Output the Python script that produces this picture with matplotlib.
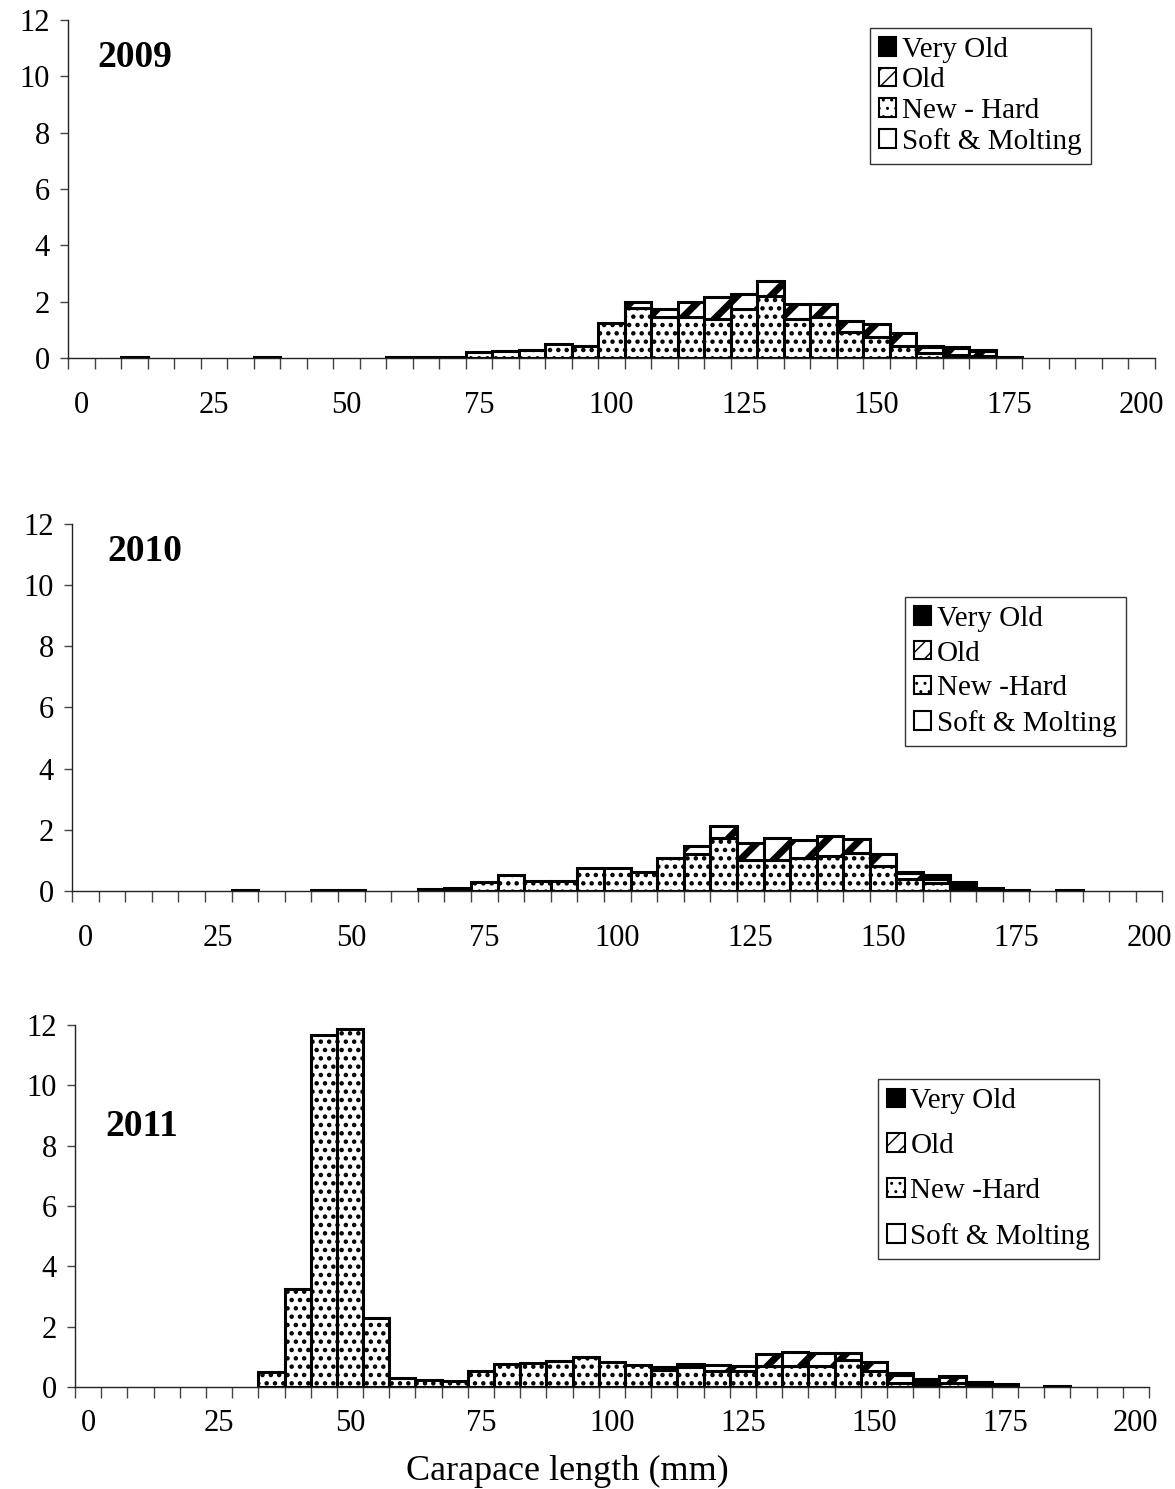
import matplotlib
matplotlib.use('Agg')
import matplotlib.pyplot as plt
from matplotlib.patches import Patch
import numpy as np

plt.rcParams['font.family'] = ['Liberation Serif', 'DejaVu Serif']
plt.rcParams['hatch.color'] = 'black'

# carapace length classes (mm) and percent frequency by shell condition
len_2009 = [10, 35, 60, 65, 70, 75, 80, 85, 90, 95, 100, 105, 110, 115, 120, 125,
            130, 135, 140, 145, 150, 155, 160, 165, 170, 175]
new_2009 = [0.02, 0.02, 0.05, 0.03, 0.05, 0.22, 0.26, 0.28, 0.50, 0.41, 1.25, 1.79, 1.44,
            1.46, 1.38, 1.74, 2.20, 1.37, 1.46, 0.91, 0.73, 0.44, 0.16, 0.12, 0.08, 0.0]
old_2009 = [0, 0, 0, 0, 0, 0, 0, 0, 0, 0, 0, 0.18, 0.30, 0.54, 0.77, 0.53, 0.52, 0.56,
            0.45, 0.41, 0.47, 0.45, 0.24, 0.24, 0.15, 0.0]
vold_2009 = [0, 0, 0, 0, 0, 0, 0, 0, 0, 0, 0, 0, 0, 0, 0, 0, 0, 0, 0, 0, 0, 0,
             0.04, 0.03, 0.05, 0.04]
soft_2009 = [0] * len(len_2009)

len_2010 = [30, 45, 50, 65, 70, 75, 80, 85, 90, 95, 100, 105, 110, 115, 120, 125,
            130, 135, 140, 145, 150, 155, 160, 165, 170, 175, 185]
new_2010 = [0.02, 0.02, 0.04, 0.05, 0.11, 0.30, 0.51, 0.32, 0.32, 0.74, 0.76, 0.62, 1.09,
            1.22, 1.74, 1.03, 1.00, 1.09, 1.14, 1.23, 0.82, 0.38, 0.27, 0.10, 0, 0, 0]
old_2010 = [0, 0, 0, 0, 0, 0, 0, 0, 0, 0, 0, 0, 0, 0.26, 0.38, 0.55, 0.72, 0.57, 0.66,
            0.46, 0.40, 0.20, 0.12, 0.08, 0, 0, 0]
vold_2010 = [0, 0, 0, 0, 0, 0, 0, 0, 0, 0, 0, 0, 0, 0, 0, 0, 0, 0, 0, 0, 0,
             0.05, 0.15, 0.12, 0.10, 0.04, 0.02]
soft_2010 = [0] * len(len_2010)

len_2011 = [35, 40, 45, 50, 55, 60, 65, 70, 75, 80, 85, 90, 95, 100, 105, 110, 115,
            120, 125, 130, 135, 140, 145, 150, 155, 160, 165, 170, 175, 185]
new_2011 = [0.50, 3.26, 11.66, 11.86, 2.29, 0.30, 0.24, 0.20, 0.52, 0.77, 0.79, 0.87,
            0.99, 0.83, 0.72, 0.57, 0.65, 0.52, 0.52, 0.68, 0.68, 0.68, 0.90, 0.52,
            0.14, 0.09, 0.14, 0, 0, 0]
old_2011 = [0, 0, 0, 0, 0, 0, 0, 0, 0, 0, 0, 0, 0, 0, 0, 0.08, 0.10, 0.20, 0.16, 0.42,
            0.49, 0.46, 0.24, 0.31, 0.25, 0.10, 0.18, 0, 0, 0]
vold_2011 = [0, 0, 0, 0, 0, 0, 0, 0, 0, 0, 0, 0, 0, 0, 0, 0, 0, 0, 0, 0, 0, 0, 0, 0,
             0.06, 0.06, 0.04, 0.16, 0.11, 0.04]
soft_2011 = [0] * len(len_2011)

OLD_HLW = 5.0
DOT_HLW = 2.0


def hatched(hatch, lw, **kw):
    # build a patch with its own hatch line width
    with plt.rc_context({'hatch.linewidth': lw}):
        p = Patch(hatch=hatch, **kw)
    if hasattr(p, 'set_hatch_linewidth'):
        p.set_hatch_linewidth(lw)
    return p


def panel(ax, lengths, soft, new, old, vold, year, year_xy, leg_xy, spacing,
          new_label, xpad=24):
    x = np.array(lengths, dtype=float)
    bottom = np.zeros(len(x))
    layers = [
        (soft, 'white', None, 1.0),
        (new, 'white', '..', DOT_HLW),
        (old, 'white', '/', OLD_HLW),
        (vold, 'black', None, 1.0),
    ]
    for vals, fc, hatch, hlw in layers:
        h = np.array(vals, dtype=float)
        m = h > 0
        with plt.rc_context({'hatch.linewidth': hlw}):
            bars = ax.bar(x[m], h[m], width=5, bottom=bottom[m], color=fc,
                          edgecolor='black', linewidth=2.2, hatch=hatch)
        for p in bars:
            if hasattr(p, 'set_hatch_linewidth'):
                p.set_hatch_linewidth(hlw)
        bottom = bottom + h

    ax.set_xlim(-2.5, 202.5)
    ax.set_ylim(0, 12)
    ax.set_yticks(np.arange(0, 13, 2))
    ax.set_xticks(np.arange(0, 201, 25))
    ax.set_xticks(np.arange(-2.5, 203, 5), minor=True)
    ax.tick_params(axis='x', which='major', length=0, pad=xpad, labelsize=22)
    ax.tick_params(axis='x', which='minor', length=8, direction='out',
                   color='#444444', width=1)
    ax.tick_params(axis='y', length=6, direction='out', color='#444444',
                   width=1, pad=7, labelsize=22)
    for s in ['top', 'right']:
        ax.spines[s].set_visible(False)
    for s in ['left', 'bottom']:
        ax.spines[s].set_color('#222222')
        ax.spines[s].set_linewidth(1)

    ax.text(year_xy[0], year_xy[1], year, transform=ax.transAxes,
            fontsize=27, fontweight='bold', va='center', ha='left')

    handles = [
        Patch(facecolor='black', edgecolor='black', linewidth=1.5),
        hatched('//', 3.0, facecolor='white', edgecolor='black', linewidth=1.5),
        hatched('..', 1.5, facecolor='white', edgecolor='black', linewidth=1.5),
        Patch(facecolor='white', edgecolor='black', linewidth=1.5),
    ]
    labels = ['Very Old', 'Old', new_label, 'Soft & Molting']
    leg = ax.legend(handles, labels,
                    loc='upper left', bbox_to_anchor=leg_xy, fontsize=21,
                    frameon=True, fancybox=False, shadow=False,
                    handlelength=0.6, handleheight=0.6, handletextpad=0.2,
                    labelspacing=spacing, borderpad=0.3, borderaxespad=0)
    leg.get_frame().set_edgecolor('black')
    leg.get_frame().set_linewidth(1)


fig = plt.figure(figsize=(11.75, 14.89), dpi=100)
ax1 = fig.add_axes([0.0579, 0.7596, 0.925, 0.227])
ax2 = fig.add_axes([0.0613, 0.4016, 0.928, 0.2465])
ax3 = fig.add_axes([0.0638, 0.0685, 0.914, 0.2431])

panel(ax1, len_2009, soft_2009, new_2009, old_2009, vold_2009, '2009',
      (0.027, 0.888), (0.738, 0.976), 0.15, 'New - Hard')
panel(ax2, len_2010, soft_2010, new_2010, old_2010, vold_2010, '2010',
      (0.032, 0.926), (0.764, 0.801), 0.3, 'New -Hard')
panel(ax3, len_2011, soft_2011, new_2011, old_2011, vold_2011, '2011',
      (0.028, 0.72), (0.748, 0.85), 0.65, 'New -Hard', xpad=16)

fig.text(0.483, 0.001, 'Carapace length (mm)', fontsize=26, ha='center', va='bottom')

fig.savefig('out.png', dpi=100)
